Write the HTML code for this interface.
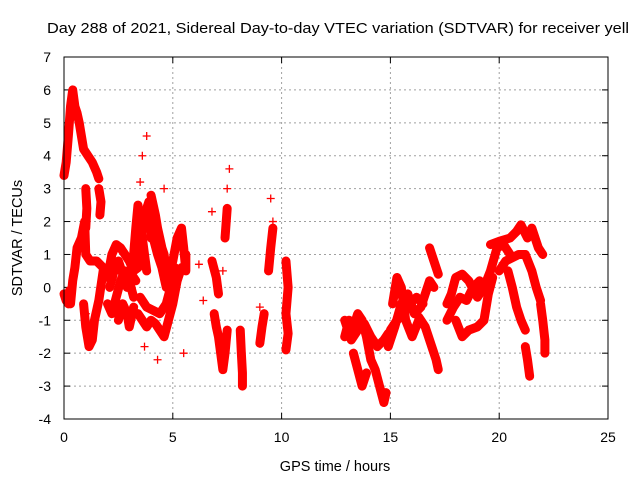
<!DOCTYPE html>
<html><head><meta charset="utf-8"><style>
body{margin:0;background:#fff;}
svg{display:block;font-family:"Liberation Sans",sans-serif;}
</style></head><body>
<svg id="chart" width="640" height="480" viewBox="0 0 640 480">
<rect width="640" height="480" fill="#fff"/>
<text x="47" y="33" font-size="14.5" fill="#000" textLength="582" lengthAdjust="spacingAndGlyphs">Day 288 of 2021, Sidereal Day-to-day VTEC variation (SDTVAR) for receiver yell</text>
<g id="grid"></g>
<g id="ticks"></g>
<g id="marks"></g>
<rect x="64" y="57" width="544" height="362" fill="none" stroke="#000" stroke-width="1"/>
<text x="335" y="471" font-size="14.5" text-anchor="middle">GPS time / hours</text>
<text transform="translate(22,238) rotate(-90)" font-size="14.5" text-anchor="middle">SDTVAR / TECUs</text>
</svg>
<script>
const xTicks=[0,5,10,15,20,25];
const yTicks=[-4,-3,-2,-1,0,1,2,3,4,5,6,7];
const trackA=[[0,3.4],[0.1,3.8],[0.2,4.6],[0.3,5.5],[0.4,6.0],[0.5,5.5],[0.6,5.3],[0.7,5.0],[0.8,4.6],[0.9,4.2],[1.1,4.0],[1.3,3.8],[1.5,3.5],[1.6,3.3]];
const trackB=[[0,-0.2],[0.1,-0.4],[0.2,-0.5],[0.25,-0.1]];
const trackC=[[0.3,-0.5],[0.4,0.2],[0.5,0.6],[0.6,1.2],[0.8,1.5],[0.95,2.0],[1.0,1.0],[1.2,0.8],[1.5,0.8],[1.8,0.6]];
const trackD=[[0.9,-0.5],[1.0,-1.2],[1.15,-1.8],[1.3,-1.6],[1.4,-1.0],[1.6,-0.4],[1.8,0.5]];
const trackD2=[[1.0,3.0],[1.05,2.4],[1.0,1.8]];
const trackD3=[[1.6,3.0],[1.7,2.6],[1.65,2.2]];
const trackE=[[2.0,0.3],[2.2,1.0],[2.4,1.3],[2.6,1.2],[2.8,1.0],[3.0,0.8],[3.2,0.5],[3.4,0.6],[3.6,0.8]];
const trackE2=[[2.1,0.0],[2.3,0.5],[2.5,0.8],[2.7,0.4],[2.9,0.0],[3.1,0.4],[3.3,0.2]];
const trackF=[[2.0,-0.5],[2.2,-0.8],[2.4,-0.3],[2.6,0.2],[2.8,0.5],[3.0,0.2],[3.2,-0.3]];
const trackF2=[[2.5,-1.0],[2.7,-0.5],[2.9,-0.8],[3.0,-1.2],[3.2,-0.6]];
const trackG=[[3.2,1.0],[3.3,1.8],[3.4,2.5],[3.5,2.0],[3.6,1.5],[3.7,1.0],[3.8,0.5]];
const trackG2=[[3.3,0.8],[3.5,1.4],[3.7,2.2],[3.9,2.6],[4.0,1.5]];
const trackH=[[4.0,2.8],[4.1,2.5],[4.2,2.2],[4.3,1.8],[4.4,1.5],[4.5,1.2],[4.6,1.0],[4.7,0.5]];
const trackH2=[[4.1,1.5],[4.3,1.0],[4.5,0.6],[4.7,0.0]];
const trackI=[[3.4,-0.8],[3.6,-1.0],[3.8,-1.2],[4.0,-1.0],[4.2,-1.1],[4.4,-1.3],[4.6,-1.5],[4.8,-1.0],[5.0,-0.5],[5.2,0.2],[5.4,0.6]];
const trackI2=[[3.5,-0.3],[3.8,-0.6],[4.1,-0.7],[4.4,-0.8],[4.7,-0.5],[4.9,0.0],[5.1,0.6]];
const trackJ=[[4.8,0.3],[5.0,0.8],[5.2,1.5],[5.4,1.8],[5.5,1.2],[5.6,0.5],[5.6,1.0]];
const trackK=[[6.8,0.8],[7.0,0.3],[7.1,-0.2]];
const trackL=[[6.9,-0.8],[7.0,-1.2],[7.1,-1.5],[7.2,-2.0],[7.3,-2.5],[7.4,-2.0],[7.5,-1.3]];
const trackM=[[7.4,1.5],[7.5,2.4]];
const trackN=[[8.1,-1.3],[8.15,-2.0],[8.2,-2.6],[8.2,-3.0]];
const trackO=[[9.0,-1.7],[9.1,-1.2],[9.2,-0.8]];
const trackP=[[9.4,0.5],[9.5,1.2],[9.6,1.8]];
const trackQ=[[10.2,0.8],[10.3,0.0],[10.2,-0.8],[10.3,-1.4],[10.2,-1.9]];
const trackR=[[12.9,-1.5],[13.1,-1.0],[13.3,-1.2],[13.5,-0.8],[13.7,-1.0],[13.9,-1.5],[14.1,-2.2],[14.3,-2.5],[14.5,-3.0],[14.7,-3.5],[14.8,-3.2]];
const trackR2=[[12.9,-1.0],[13.2,-1.6],[13.5,-1.3],[13.8,-1.1],[14.1,-1.5],[14.4,-1.8],[14.7,-1.6],[14.9,-1.4]];
const trackS=[[13.3,-2.0],[13.5,-2.5],[13.7,-3.0],[13.9,-2.6]];
const trackT=[[14.9,-1.8],[15.2,-1.2],[15.5,-0.5],[15.8,-0.2],[16.1,-0.8],[16.4,-0.6],[16.6,-0.2],[16.8,0.2],[17.0,0.0]];
const trackU=[[15.1,-0.5],[15.3,0.3],[15.5,0.0],[15.7,-1.0],[16.0,-1.5],[16.3,-1.0]];
const trackU2=[[15.0,-1.3],[15.3,-1.0],[15.6,-0.8],[15.9,-0.5],[16.2,-0.3],[16.5,-0.5]];
const trackV=[[16.3,-0.9],[16.6,-1.2],[16.9,-1.8],[17.1,-2.2],[17.2,-2.5]];
const trackW=[[16.8,1.2],[17.0,0.8],[17.2,0.4]];
const trackX=[[17.6,-0.5],[17.8,-0.2],[18.0,0.3],[18.3,0.4],[18.6,0.2],[19.0,-0.3],[19.3,0.0],[19.6,0.5],[19.9,1.2],[20.2,1.3],[20.5,1.0]];
const trackY=[[18.0,-1.0],[18.3,-1.5],[18.6,-1.3],[19.0,-1.2],[19.3,-1.0],[19.5,-0.2],[19.7,0.3]];
const trackY2=[[17.6,-1.0],[17.9,-0.6],[18.2,-0.3],[18.5,-0.4],[18.8,0.0],[19.1,0.2]];
const trackZ=[[19.6,1.3],[20.0,1.4],[20.5,1.5],[20.8,1.7],[21.0,1.9],[21.3,1.5],[21.5,1.8],[21.8,1.2],[22.0,1.0]];
const trackAA=[[20.0,0.5],[20.3,0.8],[20.6,0.9],[20.9,1.0],[21.2,1.0],[21.5,0.5],[21.7,0.0],[21.9,-0.4]];
const trackAB=[[20.4,0.5],[20.6,0.0],[20.8,-0.6],[21.0,-1.0],[21.2,-1.3]];
const trackAC=[[21.2,-1.8],[21.3,-2.2],[21.4,-2.7]];
const trackAD=[[21.9,-0.5],[22.0,-1.0],[22.1,-1.6],[22.1,-2.0]];
const scatter=[[3.8,4.6],[3.6,4.0],[3.5,3.2],[4.3,-2.2],[3.7,-1.8],[5.5,-2.0],[6.2,0.7],[6.4,-0.4],[6.8,2.3],[9.5,2.7],[9.0,-0.6],[1.0,-0.8],[4.6,3.0],[7.6,3.6],[7.5,3.0],[9.6,2.0],[7.3,0.5]];
const tracks=[trackA,trackB,trackC,trackD,trackD2,trackD3,trackE,trackE2,trackF,trackF2,trackG,trackG2,trackH,trackH2,trackI,trackI2,trackJ,trackK,trackL,trackM,trackN,trackO,trackP,trackQ,trackR,trackR2,trackS,trackT,trackU,trackU2,trackV,trackW,trackX,trackY,trackY2,trackZ,trackAA,trackAB,trackAC,trackAD];

const NS='http://www.w3.org/2000/svg';
const X0=64,X1=608,Y0=419,Y1=57;
const xs=t=>X0+(t-0)/(25-0)*(X1-X0);
const ys=v=>Y0-(v-(-4))/(7-(-4))*(Y0-Y1);
function mk(tag,attrs,parent){const e=document.createElementNS(NS,tag);for(const k in attrs)e.setAttribute(k,attrs[k]);parent.appendChild(e);return e;}
const grid=document.getElementById('grid'),ticks=document.getElementById('ticks'),marks=document.getElementById('marks');
xTicks.forEach(t=>{
  const x=xs(t);
  if(t>0&&t<25){const g=mk('line',{x1:x,x2:x,y1:Y1,y2:Y0,stroke:'#a0a0a0','stroke-dasharray':'2,3'},grid);
  
  }
  mk('line',{x1:x,x2:x,y1:Y0,y2:Y0-6,stroke:'#000'},ticks);
  mk('line',{x1:x,x2:x,y1:Y1,y2:Y1+6,stroke:'#000'},ticks);
  const l=mk('text',{x:x,y:442,'font-size':14,'text-anchor':'middle'},ticks);
  l.textContent=t;
  
  
});
yTicks.forEach(v=>{
  const y=ys(v);
  if(v>-4&&v<7){const g=mk('line',{x1:X0,x2:X1,y1:y,y2:y,stroke:'#a0a0a0','stroke-dasharray':'2,3'},grid);
  
  }
  mk('line',{x1:X0,x2:X0+6,y1:y,y2:y,stroke:'#000'},ticks);
  mk('line',{x1:X1,x2:X1-6,y1:y,y2:y,stroke:'#000'},ticks);
  const l=mk('text',{x:51,y:y+5,'font-size':14,'text-anchor':'end'},ticks);
  l.textContent=v;
  
  
});
function cross(t,v){
  const x=xs(t),y=ys(v);
  const p=mk('path',{d:`M${x-4},${y}H${x+4}M${x},${y-4}V${y+4}`,stroke:'#f00','stroke-width':1.3},marks);
  
  
}
tracks.forEach(tr=>{
  const pl=mk('polyline',{points:tr.map(p=>xs(p[0])+','+ys(p[1])).join(' '),fill:'none',stroke:'#f00','stroke-width':9,'stroke-linejoin':'round','stroke-linecap':'round'},marks);
  
  
  tr.forEach(p=>cross(p[0],p[1]));
});
scatter.forEach(p=>cross(p[0],p[1]));
</script>
</body></html>
